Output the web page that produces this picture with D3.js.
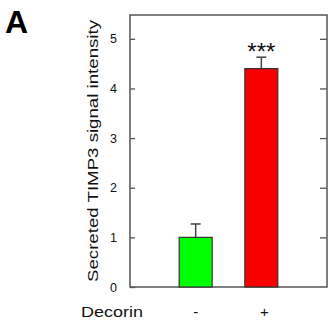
<!DOCTYPE html>
<html>
<head>
<meta charset="utf-8">
<script src="https://cdn.jsdelivr.net/npm/d3@7"></script>
<style>
  html, body { margin: 0; padding: 0; background: #fff; }
  svg { display: block; font-family: "Liberation Sans", Arial, sans-serif; }
</style>
</head>
<body>
<svg id="chart" width="328" height="320"></svg>
<script>
// Secreted TIMP3 signal, without and with decorin
const categories = ["-", "+"];
const means = [1.0, 4.40];
const errors = [0.27, 0.23];
const barColors = ["#00ff00", "#f80000"];
const yTicks = [0, 1, 2, 3, 4, 5];
const significance = ["", "***"];

const svg = d3.select("#chart");
const plotLeft = 130, plotRight = 327, plotTop = 15, plotBottom = 287;

const x = d3.scalePoint().domain(categories).range([plotLeft, plotRight]).padding(1);
const y = d3.scaleLinear().domain([0, 5.48]).range([plotBottom, plotTop]);
const barW = 33;

// frame
svg.append("rect")
  .attr("x", plotLeft).attr("y", plotTop)
  .attr("width", plotRight - plotLeft).attr("height", plotBottom - plotTop)
  .attr("fill", "none").attr("stroke", "#555").attr("stroke-width", 1.5);

// left axis with inward ticks
const yAxisL = svg.append("g").attr("transform", `translate(${plotLeft},0)`)
  .call(d3.axisLeft(y).tickValues(yTicks).tickSize(-5).tickPadding(13).tickFormat(d3.format("d")));
yAxisL.select(".domain").remove();
yAxisL.selectAll(".tick line").attr("stroke", "#555").attr("stroke-width", 1.3);
yAxisL.selectAll(".tick text").attr("font-size", 12.5).attr("fill", "#111")
  .attr("font-family", "Liberation Sans, Arial, sans-serif");

// right axis, ticks only
const yAxisR = svg.append("g").attr("transform", `translate(${plotRight},0)`)
  .call(d3.axisRight(y).tickValues(yTicks.filter(d => d > 0)).tickSize(-7).tickFormat(""));
yAxisR.select(".domain").remove();
yAxisR.selectAll(".tick line").attr("stroke", "#555").attr("stroke-width", 1.3);

// error bars
const eb = svg.append("g").selectAll("g").data(categories).join("g");
eb.append("line")
  .attr("x1", d => x(d)).attr("x2", d => x(d))
  .attr("y1", (d, i) => y(means[i])).attr("y2", (d, i) => y(means[i] + errors[i]))
  .attr("stroke", "#444").attr("stroke-width", 1.5);
eb.append("line")
  .attr("x1", d => x(d) - 5).attr("x2", d => x(d) + 5)
  .attr("y1", (d, i) => y(means[i] + errors[i])).attr("y2", (d, i) => y(means[i] + errors[i]))
  .attr("stroke", "#444").attr("stroke-width", 1.5);

// bars
svg.append("g").selectAll("rect").data(categories).join("rect")
  .attr("x", d => x(d) - barW / 2)
  .attr("y", (d, i) => y(means[i]))
  .attr("width", barW)
  .attr("height", (d, i) => y(0) - y(means[i]))
  .attr("fill", (d, i) => barColors[i])
  .attr("stroke", "#333").attr("stroke-width", 1.2);

// significance marks
svg.append("g").selectAll("text").data(categories).join("text")
  .attr("x", d => x(d))
  .attr("y", (d, i) => y(means[i] + errors[i]) + 3)
  .attr("text-anchor", "middle")
  .attr("font-size", 24).attr("fill", "#111")
  .text((d, i) => significance[i]);

// category labels
svg.append("g").selectAll("text").data(categories).join("text")
  .attr("x", (d, i) => x(d) + (i === 1 ? 3 : 0))
  .attr("y", 317)
  .attr("text-anchor", "middle")
  .attr("font-size", 15).attr("fill", "#111")
  .text(d => d);

svg.append("text")
  .attr("x", 112).attr("y", 317)
  .attr("text-anchor", "middle")
  .attr("font-size", 15.5).attr("fill", "#111")
  .attr("textLength", 62).attr("lengthAdjust", "spacingAndGlyphs")
  .text("Decorin");

// y axis title
svg.append("text")
  .attr("transform", "translate(98,151) rotate(-90)")
  .attr("text-anchor", "middle")
  .attr("font-size", 15.5).attr("fill", "#111")
  .attr("textLength", 262).attr("lengthAdjust", "spacingAndGlyphs")
  .text("Secreted TIMP3 signal intensity");

// panel letter
svg.append("text")
  .attr("x", 5).attr("y", 33)
  .attr("font-size", 32).attr("font-weight", "bold").attr("fill", "#000")
  .text("A");
</script>
</body>
</html>
